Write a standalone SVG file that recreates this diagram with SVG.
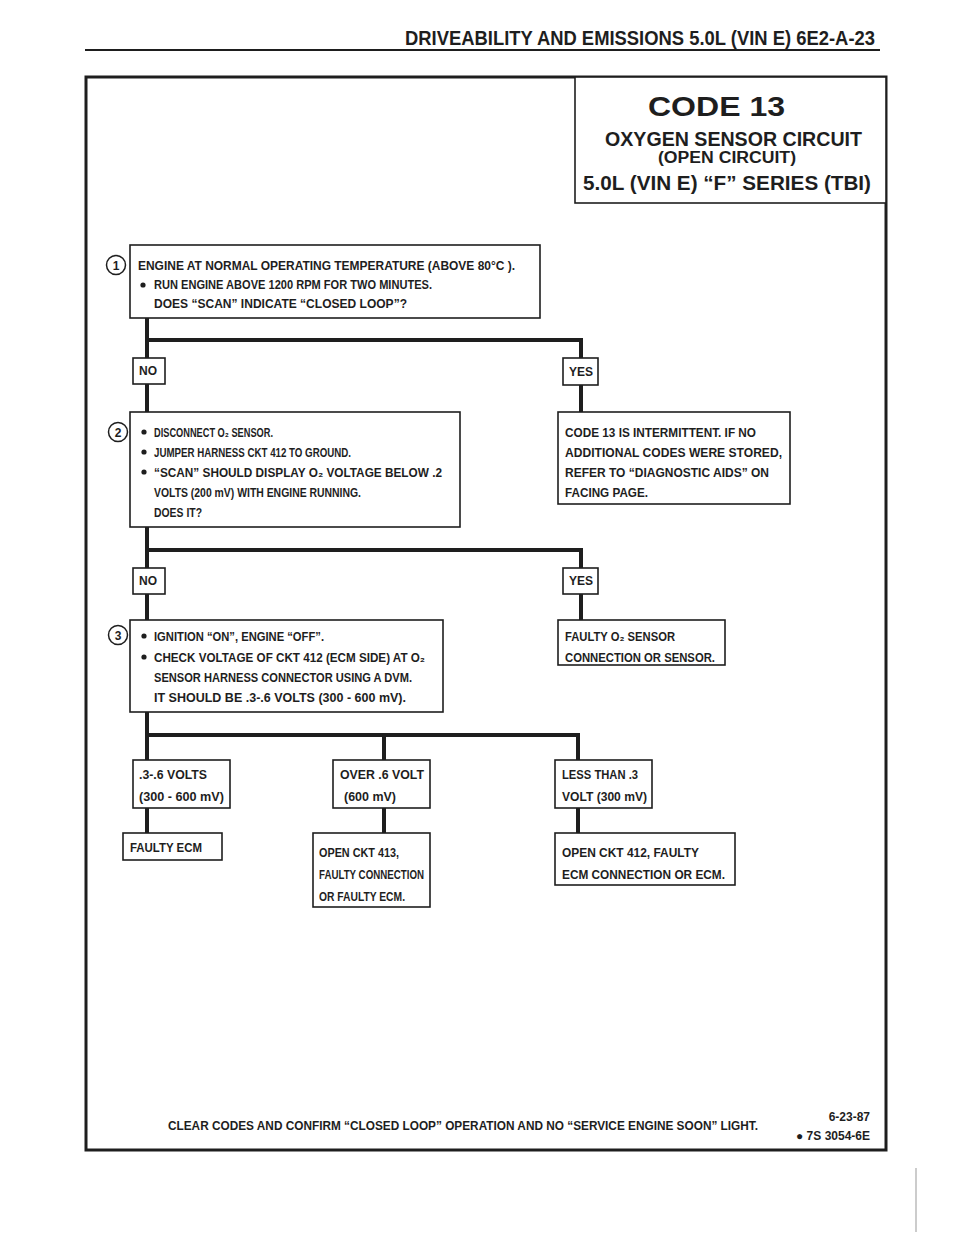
<svg xmlns="http://www.w3.org/2000/svg" width="960" height="1242" viewBox="0 0 960 1242">
<style>
.bg{fill:#fff}
.box{fill:#fff;stroke:#1e1e1e;stroke-width:1.6}
.frame{fill:none;stroke:#1e1e1e;stroke-width:3}
.conn{stroke:#1e1e1e;stroke-width:4;fill:none;stroke-linecap:square}
.t{font-family:"Liberation Sans","DejaVu Sans",Arial,sans-serif;font-weight:bold;font-size:12px;fill:#1e1e1e}
.h{font-family:"Liberation Sans",Arial,sans-serif;font-weight:bold;fill:#1e1e1e}
.num{font-family:"Liberation Sans",Arial,sans-serif;font-weight:bold;font-size:12px;fill:#1e1e1e;text-anchor:middle}
.ring{fill:#fff;stroke:#1e1e1e;stroke-width:1.5}
.dot{fill:#1e1e1e}
</style>
<rect class="bg" x="0" y="0" width="960" height="1242"/>

<g id="header">
<text class="h" x="405" y="45" font-size="20" textLength="470" lengthAdjust="spacingAndGlyphs">DRIVEABILITY AND EMISSIONS  5.0L  (VIN E)  6E2-A-23</text>
<line x1="85" y1="50" x2="880" y2="50" stroke="#1e1e1e" stroke-width="2"/>
</g>

<rect class="frame" x="86" y="77" width="800" height="1073"/>

<g id="title">
<rect class="box" x="575" y="77" width="311" height="126" stroke-width="2"/>
<text class="h" x="648" y="116" font-size="27" textLength="137" lengthAdjust="spacingAndGlyphs">CODE 13</text>
<text class="h" x="605" y="146" font-size="21" textLength="257" lengthAdjust="spacingAndGlyphs">OXYGEN SENSOR CIRCUIT</text>
<text class="h" x="658" y="163" font-size="16" textLength="138" lengthAdjust="spacingAndGlyphs">(OPEN CIRCUIT)</text>
<text class="h" x="583" y="190" font-size="21" textLength="288" lengthAdjust="spacingAndGlyphs">5.0L (VIN E)  “F” SERIES  (TBI)</text>
</g>

<g id="connectors">
<polyline class="conn" points="147,318 147,358"/>
<polyline class="conn" points="147,340 581,340 581,358"/>
<line class="conn" x1="147" y1="384" x2="147" y2="412"/>
<line class="conn" x1="581" y1="385" x2="581" y2="412"/>
<polyline class="conn" points="147,527 147,568"/>
<polyline class="conn" points="147,550 581,550 581,568"/>
<line class="conn" x1="147" y1="594" x2="147" y2="620"/>
<line class="conn" x1="581" y1="594" x2="581" y2="620"/>
<polyline class="conn" points="147,712 147,760"/>
<polyline class="conn" points="147,735 578,735 578,760"/>
<line class="conn" x1="384" y1="735" x2="384" y2="760"/>
<line class="conn" x1="147" y1="808" x2="147" y2="833"/>
<line class="conn" x1="384" y1="808" x2="384" y2="833"/>
<line class="conn" x1="578" y1="808" x2="578" y2="833"/>
</g>

<g id="step1">
<circle class="ring" cx="116" cy="265" r="9.5"/>
<text class="num" x="116" y="269.5">1</text>
<rect class="box" x="130" y="245" width="410" height="73"/>
<text class="t" x="138" y="270" textLength="377" lengthAdjust="spacingAndGlyphs">ENGINE AT NORMAL OPERATING TEMPERATURE (ABOVE 80°C ).</text>
<circle class="dot" cx="143" cy="285" r="2.6"/>
<text class="t" x="154" y="289" textLength="278" lengthAdjust="spacingAndGlyphs">RUN ENGINE ABOVE 1200 RPM FOR TWO MINUTES.</text>
<text class="t" x="154" y="308" textLength="253" lengthAdjust="spacingAndGlyphs">DOES “SCAN” INDICATE “CLOSED LOOP”?</text>
</g>

<g id="no1">
<rect class="box" x="133" y="358" width="32" height="26"/>
<text class="t" x="139" y="375">NO</text>
</g>
<g id="yes1">
<rect class="box" x="563" y="358" width="35" height="27"/>
<text class="t" x="569" y="376">YES</text>
</g>

<g id="step2">
<circle class="ring" cx="118" cy="432" r="9.5"/>
<text class="num" x="118" y="436.5">2</text>
<rect class="box" x="130" y="412" width="330" height="115"/>
<circle class="dot" cx="144" cy="432" r="2.6"/>
<text class="t" x="154" y="437" textLength="119" lengthAdjust="spacingAndGlyphs">DISCONNECT O₂ SENSOR.</text>
<circle class="dot" cx="144" cy="452" r="2.6"/>
<text class="t" x="154" y="457" textLength="197" lengthAdjust="spacingAndGlyphs">JUMPER HARNESS CKT 412 TO GROUND.</text>
<circle class="dot" cx="144" cy="472" r="2.6"/>
<text class="t" x="154" y="477" textLength="288" lengthAdjust="spacingAndGlyphs">“SCAN”  SHOULD DISPLAY O₂ VOLTAGE BELOW .2</text>
<text class="t" x="154" y="497" textLength="207" lengthAdjust="spacingAndGlyphs">VOLTS  (200 mV) WITH ENGINE RUNNING.</text>
<text class="t" x="154" y="517" textLength="48" lengthAdjust="spacingAndGlyphs">DOES IT?</text>
</g>

<g id="intermittent">
<rect class="box" x="558" y="412" width="232" height="92"/>
<text class="t" x="565" y="437" textLength="191" lengthAdjust="spacingAndGlyphs">CODE 13 IS INTERMITTENT.  IF NO</text>
<text class="t" x="565" y="457" textLength="217" lengthAdjust="spacingAndGlyphs">ADDITIONAL CODES WERE STORED,</text>
<text class="t" x="565" y="477" textLength="204" lengthAdjust="spacingAndGlyphs">REFER TO  “DIAGNOSTIC AIDS” ON</text>
<text class="t" x="565" y="497" textLength="83" lengthAdjust="spacingAndGlyphs">FACING PAGE.</text>
</g>

<g id="no2">
<rect class="box" x="133" y="568" width="32" height="26"/>
<text class="t" x="139" y="585">NO</text>
</g>
<g id="yes2">
<rect class="box" x="563" y="568" width="35" height="26"/>
<text class="t" x="569" y="585">YES</text>
</g>

<g id="step3">
<circle class="ring" cx="118" cy="635" r="9.5"/>
<text class="num" x="118" y="639.5">3</text>
<rect class="box" x="130" y="620" width="313" height="92"/>
<circle class="dot" cx="144" cy="636" r="2.6"/>
<text class="t" x="154" y="641" textLength="170" lengthAdjust="spacingAndGlyphs">IGNITION “ON”,  ENGINE  “OFF”.</text>
<circle class="dot" cx="144" cy="657" r="2.6"/>
<text class="t" x="154" y="662" textLength="271" lengthAdjust="spacingAndGlyphs">CHECK VOLTAGE OF CKT 412 (ECM SIDE) AT O₂</text>
<text class="t" x="154" y="682" textLength="258" lengthAdjust="spacingAndGlyphs">SENSOR HARNESS CONNECTOR USING A DVM.</text>
<text class="t" x="154" y="702" textLength="252" lengthAdjust="spacingAndGlyphs">IT SHOULD BE  .3-.6 VOLTS (300 - 600 mV).</text>
</g>

<g id="faultyO2">
<rect class="box" x="558" y="620" width="167" height="45"/>
<text class="t" x="565" y="641" textLength="110" lengthAdjust="spacingAndGlyphs">FAULTY O₂ SENSOR</text>
<text class="t" x="565" y="662" textLength="150" lengthAdjust="spacingAndGlyphs">CONNECTION OR SENSOR.</text>
</g>

<g id="range">
<rect class="box" x="133" y="760" width="97" height="48"/>
<text class="t" x="139" y="779" textLength="68" lengthAdjust="spacingAndGlyphs">.3-.6 VOLTS</text>
<text class="t" x="139" y="801" textLength="85" lengthAdjust="spacingAndGlyphs">(300 - 600 mV)</text>
</g>
<g id="over">
<rect class="box" x="333" y="760" width="97" height="48"/>
<text class="t" x="340" y="779" textLength="84" lengthAdjust="spacingAndGlyphs">OVER  .6  VOLT</text>
<text class="t" x="344" y="801" textLength="52" lengthAdjust="spacingAndGlyphs">(600 mV)</text>
</g>
<g id="less">
<rect class="box" x="555" y="760" width="97" height="48"/>
<text class="t" x="562" y="779" textLength="76" lengthAdjust="spacingAndGlyphs">LESS THAN .3</text>
<text class="t" x="562" y="801" textLength="85" lengthAdjust="spacingAndGlyphs">VOLT  (300 mV)</text>
</g>

<g id="faultyECM">
<rect class="box" x="123" y="833" width="99" height="27"/>
<text class="t" x="130" y="852" textLength="72" lengthAdjust="spacingAndGlyphs">FAULTY ECM</text>
</g>
<g id="open413">
<rect class="box" x="313" y="833" width="117" height="74"/>
<text class="t" x="319" y="857" textLength="80" lengthAdjust="spacingAndGlyphs">OPEN CKT 413,</text>
<text class="t" x="319" y="879" textLength="105" lengthAdjust="spacingAndGlyphs">FAULTY CONNECTION</text>
<text class="t" x="319" y="901" textLength="86" lengthAdjust="spacingAndGlyphs">OR FAULTY ECM.</text>
</g>
<g id="open412">
<rect class="box" x="555" y="833" width="180" height="52"/>
<text class="t" x="562" y="857" textLength="137" lengthAdjust="spacingAndGlyphs">OPEN CKT  412, FAULTY</text>
<text class="t" x="562" y="879" textLength="163" lengthAdjust="spacingAndGlyphs">ECM CONNECTION OR ECM.</text>
</g>

<g id="footer">
<text class="t" x="168" y="1130" textLength="590" lengthAdjust="spacingAndGlyphs">CLEAR CODES AND CONFIRM “CLOSED LOOP”  OPERATION AND NO “SERVICE ENGINE SOON” LIGHT.</text>
<text class="t" x="870" y="1121" text-anchor="end">6-23-87</text>
<text class="t" x="870" y="1140" text-anchor="end">● 7S 3054-6E</text>
</g>
<line x1="916" y1="1168" x2="916" y2="1232" stroke="#999" stroke-width="1"/>
</svg>
